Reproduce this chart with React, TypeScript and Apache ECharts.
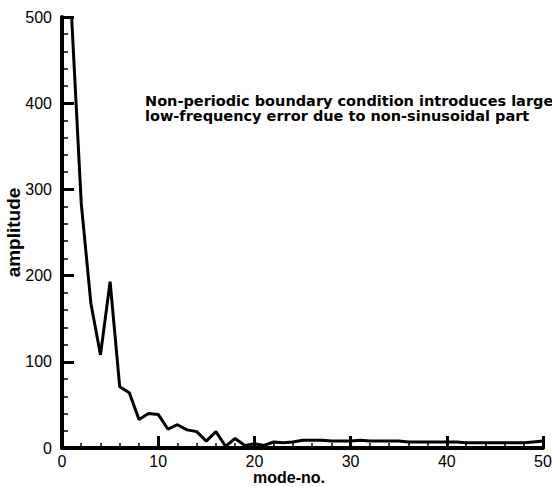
import React, { useEffect, useRef } from "react";
import * as echarts from "echarts";

const modes: number[] = [
  1, 2, 3, 4, 5, 6, 7, 8, 9, 10, 11, 12, 13, 14, 15, 16, 17, 18, 19, 20, 21, 22, 23, 24, 25,
  26, 27, 28, 29, 30, 31, 32, 33, 34, 35, 36, 37, 38, 39, 40, 41, 42, 43, 44, 45, 46, 47, 48, 49, 50,
];
const amplitudes: number[] = [
  500, 284, 168, 108, 193, 71, 64, 33, 40, 39, 22, 27, 21, 19, 8, 19, 2, 11, 3, 5, 3, 7, 6, 7, 9,
  9, 9, 8, 8, 8, 9, 8, 8, 8, 8, 7, 7, 7, 7, 7, 7, 6, 6, 6, 6, 6, 6, 6, 7, 8,
];
const annotationLines: string[] = [
  "Non-periodic boundary condition introduces large",
  "low-frequency error due to non-sinusoidal part",
];

export default function App() {
  const ref = useRef<HTMLDivElement>(null);
  useEffect(() => {
    if (!ref.current) return;
    const chart = echarts.init(ref.current, undefined, { renderer: "svg" });
    const font = "'Liberation Sans', Arial, Helvetica, sans-serif";
    const wide = "'DejaVu Sans', 'Liberation Sans', sans-serif";
    chart.setOption({
      animation: false,
      backgroundColor: "#ffffff",
      textStyle: { fontFamily: font, color: "#000" },
      grid: { left: 62, right: 9, top: 17, bottom: 39, containLabel: false, outerBoundsMode: "none" },
      xAxis: {
        type: "value",
        min: 0,
        max: 50,
        interval: 10,
        name: "mode-no.",
        nameLocation: "middle",
        nameGap: 21,
        nameMoveOverlap: false,
        nameTextStyle: {
          fontFamily: font,
          fontSize: 16,
          lineHeight: 16,
          fontWeight: "bold",
          color: "#000",
          padding: [0, 27, 0, 0],
        },
        axisLine: { show: true, onZero: false, lineStyle: { color: "#000", width: 4 } },
        axisTick: { show: true, inside: true, length: 12, lineStyle: { color: "#000", width: 3 } },
        minorTick: { show: true, splitNumber: 5, length: 5, lineStyle: { color: "#000", width: 1.5 } },
        axisLabel: { fontFamily: font, fontSize: 16, lineHeight: 14, color: "#000", margin: 6 },
        splitLine: { show: false },
        minorSplitLine: { show: false },
      },
      yAxis: {
        type: "value",
        min: 0,
        max: 500,
        interval: 100,
        name: "amplitude",
        nameLocation: "middle",
        nameGap: 39,
        nameMoveOverlap: false,
        nameTextStyle: { fontFamily: font, fontSize: 19, fontWeight: "bold", color: "#000" },
        axisLine: { show: true, onZero: false, lineStyle: { color: "#000", width: 4 } },
        axisTick: { show: true, inside: true, length: 12, lineStyle: { color: "#000", width: 3 } },
        minorTick: { show: true, splitNumber: 5, length: 6, lineStyle: { color: "#000", width: 1.5 } },
        axisLabel: { fontFamily: font, fontSize: 16, color: "#000", margin: 10 },
        splitLine: { show: false },
        minorSplitLine: { show: false },
      },
      graphic: [
        {
          type: "text",
          left: 145,
          top: 93,
          style: {
            text: annotationLines.join("\n"),
            font: `bold 14.5px ${wide}`,
            lineHeight: 15,
            fill: "#000",
          },
        },
      ],
      series: [
        {
          type: "line",
          data: modes.map((m, i) => [m, amplitudes[i]]),
          symbol: "none",
          clip: true,
          lineStyle: { color: "#000", width: 3 },
        },
      ],
    });
    return () => chart.dispose();
  }, []);
  return <div ref={ref} style={{ width: 552, height: 487, position: "absolute", left: 0, top: 0 }} />;
}
